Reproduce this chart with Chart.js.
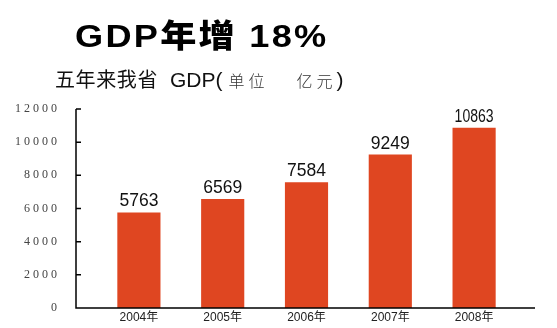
<!DOCTYPE html>
<html>
<head>
<meta charset="utf-8">
<script src="https://cdn.jsdelivr.net/npm/chart.js@4/dist/chart.umd.min.js"></script>
<style>
  body { margin: 0; background: #fff; }
  #wrap { position: relative; width: 557px; height: 328px; }
  #title {
    position: absolute; left: 75px; top: 10px; line-height: 1; white-space: nowrap;
    font: 900 32px "Liberation Sans", "Noto Sans CJK SC", sans-serif; letter-spacing: 2px; color: #000;
    transform: scaleX(1.13); transform-origin: 0 0;
  }
  #sub {
    position: absolute; left: 55px; top: 64px; line-height: 1; white-space: nowrap;
    font: 20px "Noto Sans CJK SC", sans-serif; letter-spacing: 0.6px; color: #111;
  }
  #sub .gdp { font-family: "Liberation Sans", sans-serif; letter-spacing: 0; font-size: 21px; }
  #sub .g1 { margin-left: 12px; }
  #sub .u { color: #333; font-weight: 300; font-size: 16px; letter-spacing: 4px; margin-left: 6px; }
  #sub .sp { margin-left: 8px; }
</style>
</head>
<body>
<div id="wrap">
  <canvas id="myChart" width="557" height="328"></canvas>
  <div id="title">GDP年增 18%</div>
  <div id="sub">五年来我省<span class="gdp g1">GDP(</span><span class="u">单位　<span class="sp">亿元</span></span><span class="gdp">)</span></div>
</div>
<script>
// data
var years = ['2004年', '2005年', '2006年', '2007年', '2008年'];
var gdp = [5763, 6569, 7584, 9249, 10863];
var yMin = 0;
var yMax = 12000;
var yStep = 2000;

var barColor = '#df4621';

// axis lines + inner tick marks, drawn a bit outside the plot area like the original
var axisLines = {
  id: 'axisLines',
  afterDatasetsDraw: function(chart) {
    var ctx = chart.ctx;
    var area = chart.chartArea;
    var y = chart.scales.y;
    var x0 = area.left - 21;
    var x1 = area.right + 19;
    ctx.save();
    ctx.strokeStyle = '#000';
    ctx.lineWidth = 1.5;
    ctx.beginPath();
    ctx.moveTo(x0, y.getPixelForValue(yMax));
    ctx.lineTo(x0, area.bottom);
    ctx.lineTo(x1, area.bottom);
    y.ticks.forEach(function(t) {
      var py = y.getPixelForValue(t.value);
      ctx.moveTo(x0, py);
      ctx.lineTo(x0 + 5, py);
    });
    ctx.stroke();

    //value labels on top of bars
    ctx.fillStyle = '#111';
    ctx.font = '18px "Liberation Sans", sans-serif';
    ctx.textAlign = 'center';
    ctx.textBaseline = 'alphabetic';
    chart.getDatasetMeta(0).data.forEach(function(bar, i) {
      ctx.fillText(String(gdp[i]), bar.x, bar.y - 6, 39);
    });
    ctx.restore();
  }
};

var ctx = document.getElementById('myChart').getContext('2d');
var myChart = new Chart(ctx, {
  type: 'bar',
  data: {
    labels: years,
    datasets: [{
      data: gdp,
      backgroundColor: barColor,
      borderWidth: 0,
      categoryPercentage: 1,
      barPercentage: 0.515
    }]
  },
  options: {
    responsive: false,
    animation: false,
    layout: { padding: { top: 109, right: 41, bottom: 0, left: 0 } },
    plugins: { legend: { display: false }, tooltip: { enabled: false } },
    scales: {
      x: {
        grid: { display: false, drawTicks: false },
        border: { display: false },
        ticks: {
          padding: 2,
          color: '#222',
          font: { family: '"Liberation Sans", "Noto Sans CJK SC", sans-serif', size: 12 },
          maxRotation: 0
        },
        afterFit: function(scale) { scale.height = 20; }
      },
      y: {
        min: yMin,
        max: yMax,
        grid: { display: false, drawTicks: false },
        border: { display: false },
        ticks: {
          stepSize: yStep,
          padding: 40,
          color: '#444',
          font: { family: '"Liberation Serif", serif', size: 12 },
          callback: function(v) { return String(v).split('').join(' '); }
        },
        // big label padding would otherwise also eat space top and bottom
        afterFit: function(scale) {
          scale.width = 97;
          scale.paddingTop = 0;
          scale.paddingBottom = 0;
        }
      }
    }
  },
  plugins: [axisLines]
});
</script>
</body>
</html>
